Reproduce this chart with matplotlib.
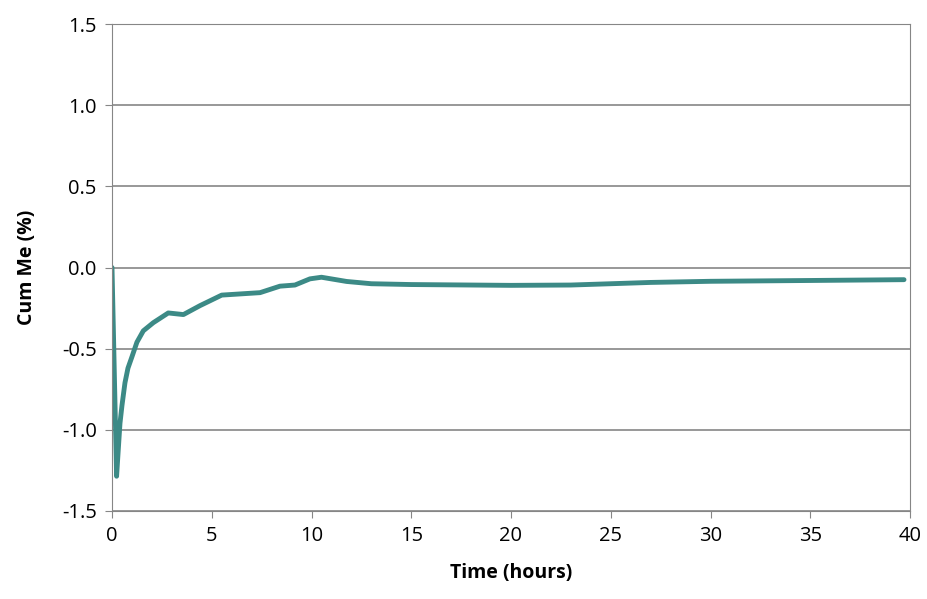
import matplotlib.pyplot as plt

hours = [0, 0.23, 0.3, 0.4, 0.5, 0.65, 0.8, 1.0, 1.25, 1.57, 2.07, 2.82, 3.58, 4.41, 4.83, 5.5,
         7.42, 8.42, 9.17, 9.92, 10.5, 11.76, 13, 15, 18, 20, 23, 25, 27, 30, 35, 39.7]
cum_me = [0, -1.286, -1.15, -0.96, -0.85, -0.71, -0.62, -0.55, -0.46, -0.39, -0.34, -0.28,
          -0.29, -0.235, -0.21, -0.17, -0.155, -0.115, -0.108, -0.07, -0.06, -0.086, -0.1,
          -0.105, -0.108, -0.11, -0.108, -0.1, -0.092, -0.085, -0.08, -0.075]

plt.rcParams['font.family'] = ['Open Sans', 'DejaVu Sans']
fig = plt.figure(figsize=(9.28, 5.99), dpi=100)
ax = fig.add_axes([112/928, 88/599, 798/928, 487/599])
ax.plot(hours, cum_me, color='#3c8a86', linewidth=3.5, solid_joinstyle='round',
        solid_capstyle='round')
ax.set_xlim(0, 40)
ax.set_ylim(-1.5, 1.5)
ax.set_xticks(range(0, 41, 5))
ax.set_yticks([-1.5, -1.0, -0.5, 0.0, 0.5, 1.0, 1.5])
ax.set_yticklabels(['-1.5', '-1.0', '-0.5', '0.0', '0.5', '1.0', '1.5'])
ax.grid(axis='y', color='#868686', linewidth=1.2)
ax.set_axisbelow(True)
for s in ax.spines.values():
    s.set_color('#868686')
ax.tick_params(labelsize=14.5, color='#868686', direction='out', length=5, pad=6)
ax.set_xlabel('Time (hours)', fontsize=14, fontweight='bold', labelpad=12)
ax.set_ylabel('Cum Me (%)', fontsize=14, fontweight='bold', labelpad=18)
fig.savefig('out.png')
